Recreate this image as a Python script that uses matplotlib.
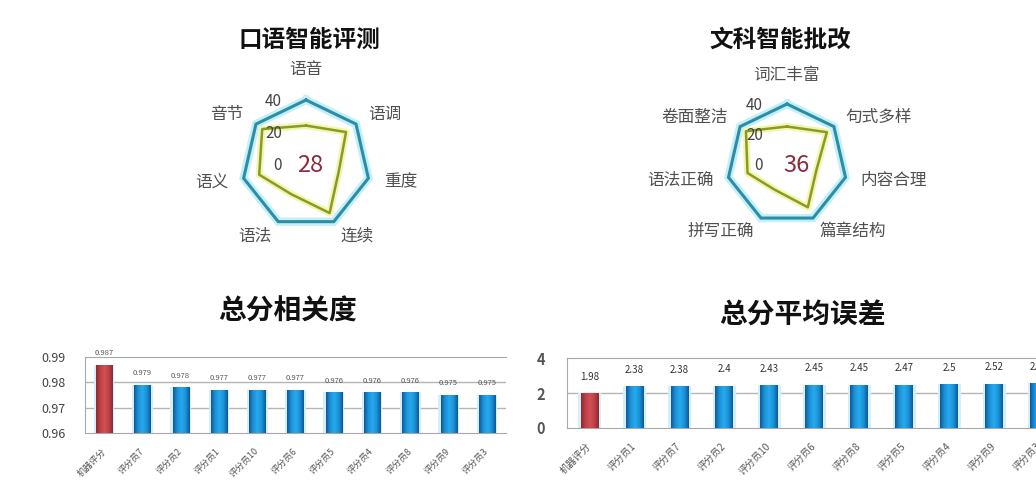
import numpy as np
import matplotlib.pyplot as plt
from matplotlib.colors import LinearSegmentedColormap
from matplotlib.transforms import offset_copy

plt.rcParams['font.family'] = ['Noto Sans CJK SC', 'DejaVu Sans']

# 口语智能评测
speak_labels = ["语音", "语调", "重度", "连续", "语法", "语义", "音节"]
speak_scores = [24, 32, 21, 34, 21, 30, 35]
speak_full = [40, 40, 40, 40, 40, 40, 40]
speak_center = "28"

# 文科智能批改
write_labels = ["词汇丰富", "句式多样", "内容合理", "篇章结构", "拼写正确", "语法正确", "卷面整洁"]
write_scores = [25, 34, 20, 32, 19, 27, 35]
write_full = [40, 40, 40, 40, 40, 40, 40]
write_center = "36"

radar_ticks = [0, 20, 40]

# 总分相关度
corr_names = ["机器评分", "评分员7", "评分员2", "评分员1", "评分员10", "评分员6",
              "评分员5", "评分员4", "评分员8", "评分员9", "评分员3"]
corr_values = [0.987, 0.979, 0.978, 0.977, 0.977, 0.977, 0.976, 0.976, 0.976, 0.975, 0.975]
corr_ticks = [0.96, 0.97, 0.98, 0.99]

# 总分平均误差
err_names = ["机器评分", "评分员1", "评分员7", "评分员2", "评分员10", "评分员6",
             "评分员8", "评分员5", "评分员4", "评分员9", "评分员3"]
err_values = [1.98, 2.38, 2.38, 2.4, 2.43, 2.45, 2.45, 2.47, 2.5, 2.52, 2.55]
err_ticks = [0, 2, 4]

W, H = 1036, 484
fig = plt.figure(figsize=(W / 100, H / 100), dpi=100)
fig.patch.set_facecolor('white')


def px_rect(x0, y0, x1, y1):
    return [x0 / W, 1 - y1 / H, (x1 - x0) / W, (y1 - y0) / H]


def radar(rect, title, title_xy, labels, scores, full, center_text, center_dx):
    ax = fig.add_axes(rect, projection='polar')
    ax.set_theta_zero_location('N')
    ax.set_theta_direction(-1)
    ax.set_ylim(0, 40)
    ax.axis('off')

    theta = np.linspace(0, 2 * np.pi, len(labels), endpoint=False)
    t = np.append(theta, theta[0])
    f = np.append(full, full[0])
    s = np.append(scores, scores[0])

    ax.plot(t, f, color='#c4eff7', lw=6, clip_on=False, solid_joinstyle='miter')
    ax.plot(t, f, color='#2b8ea6', lw=2.2, clip_on=False, solid_joinstyle='miter')
    ax.plot(t, s, color='#f1f6b4', lw=5, clip_on=False)
    ax.plot(t, s, color='#8c9a22', lw=1.8, clip_on=False)

    for ang, lab in zip(theta, labels):
        sx = np.sin(ang)
        if abs(sx) < 0.1:
            ax.text(ang, 59, lab, ha='center', va='center', fontsize=12, color='#505050')
        else:
            ax.text(ang, 50, lab, ha='left' if sx > 0 else 'right', va='center',
                    fontsize=12, color='#505050')

    # radial scale written just left of the vertical axis
    tr = offset_copy(ax.transData, fig=fig, x=-24, y=-1, units='dots')
    for v in radar_ticks:
        ax.text(0, v, str(v), transform=tr, ha='right', va='center',
                fontsize=11, color='#444444')

    ctr = offset_copy(ax.transAxes, fig=fig, x=center_dx, y=-2, units='dots')
    ax.text(0.5, 0.5, center_text, transform=ctr, ha='center', va='center',
            fontsize=17, color='#8b2b3b')

    fig.text(title_xy[0] / W, 1 - title_xy[1] / H, title, ha='center', va='center',
             fontsize=17, weight='bold', color='#111111')


radar(px_rect(242, 100, 370, 228), "口语智能评测", (309, 40),
      speak_labels, speak_scores, speak_full, speak_center, 4)
radar(px_rect(727, 104, 847, 224), "文科智能批改", (780, 40),
      write_labels, write_scores, write_full, write_center, 9)

blue_cmap = LinearSegmentedColormap.from_list(
    'bluebar', ['#0f5898', '#1b93d8', '#28a9ee', '#1b93d8', '#0f5898'])
red_cmap = LinearSegmentedColormap.from_list(
    'redbar', ['#8c2a2f', '#bf4046', '#cf5257', '#bf4046', '#8c2a2f'])
grad = np.linspace(0, 1, 64).reshape(1, -1)


def bar_chart(rect, title, title_xy, names, values, ticks, width,
              tick_size, tick_pad, lab_size, lab_off, lab_color, name_size):
    ax = fig.add_axes(rect)
    x = np.arange(len(names))
    base = ticks[0]
    heights = np.array(values) - base
    ax.bar(x, heights, width + 0.12, bottom=base, color='#d4eefa', zorder=2)
    bars = ax.bar(x, heights, width, bottom=base, color='#1b93d8', zorder=3)
    for i, b in enumerate(bars):
        cmap = red_cmap if i == 0 else blue_cmap
        if i == 0:
            b.set_facecolor('#bf4046')
        im = ax.imshow(grad, extent=[b.get_x(), b.get_x() + b.get_width(),
                                     b.get_y(), b.get_y() + b.get_height()],
                       aspect='auto', cmap=cmap, zorder=4)
        im.set_clip_path(b)
    for i, v in enumerate(values):
        ax.annotate(f"{v:g}", (i, v), xytext=(0, lab_off), textcoords='offset points',
                    ha='center', va='center', fontsize=lab_size, color=lab_color)

    ax.set_xlim(-0.5, len(names) - 0.5)
    ax.set_ylim(ticks[0], ticks[-1])
    ax.set_yticks(ticks)
    ax.set_yticklabels([f"{t:g}" for t in ticks])
    ax.set_xticks(x)
    ax.set_xticklabels(names, rotation=45, ha='right', va='center',
                       rotation_mode='anchor', fontsize=name_size, color='#555555')
    ax.tick_params(axis='x', length=0, pad=12)
    ax.tick_params(axis='y', length=0, pad=tick_pad, labelsize=tick_size, labelcolor='#444444')
    for t in ticks[1:-1]:
        ax.axhline(t, color='#b5b5b5', lw=1, zorder=1)
    for side in ['left', 'bottom', 'top']:
        ax.spines[side].set_color('#a8a8a8')
    ax.spines['right'].set_visible(False)

    fig.text(title_xy[0] / W, 1 - title_xy[1] / H, title, ha='center', va='center',
             fontsize=20, weight='bold', color='#111111')
    return ax


ax1 = bar_chart(px_rect(85, 357, 506, 433), "总分相关度", (288, 312),
                corr_names, corr_values, corr_ticks, 0.42,
                9, 14, 5.5, 8.5, '#555555', 6.5)

ax2 = bar_chart(px_rect(567, 358, 1062, 428), "总分平均误差", (802, 315),
                err_names, err_values, err_ticks, 0.4,
                10.5, 16, 7, 12, '#333333', 7)
for lab in ax2.get_yticklabels():
    lab.set_fontweight('bold')
    lab.set_color('#555555')

fig.savefig("out.png", dpi=100)
